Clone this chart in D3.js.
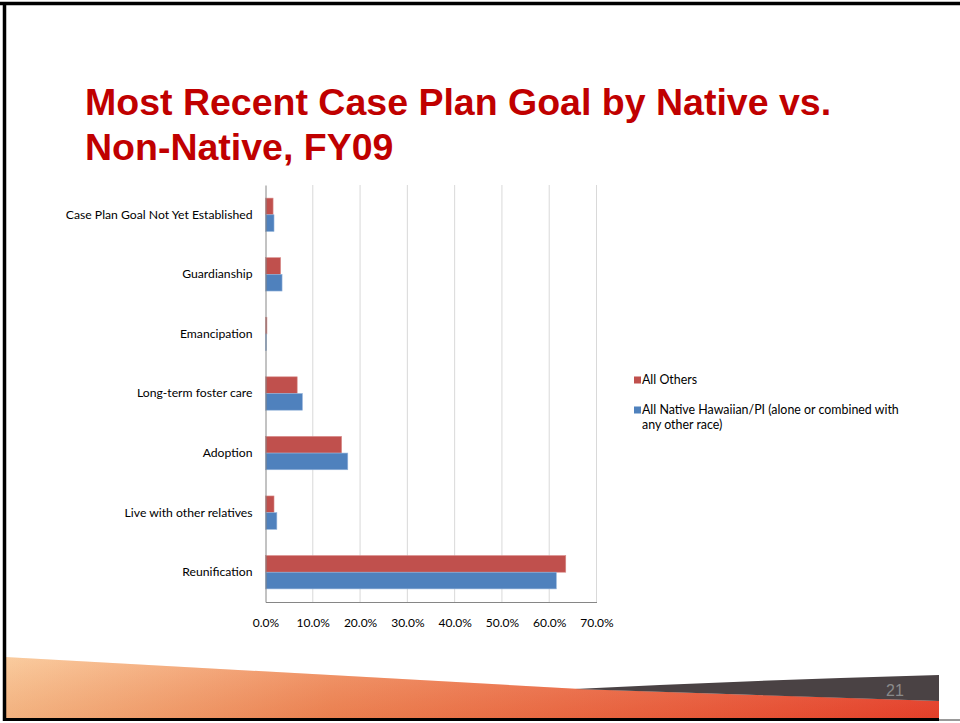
<!DOCTYPE html>
<html>
<head>
<meta charset="utf-8">
<script src="https://cdn.jsdelivr.net/npm/d3@7"></script>
<style>
  html, body { margin: 0; padding: 0; background: #fff; }
  svg { display: block; }
</style>
</head>
<body>
<div id="chart"></div>
<script>
// DATA
const categories = [
  "Case Plan Goal Not Yet Established",
  "Guardianship",
  "Emancipation",
  "Long-term foster care",
  "Adoption",
  "Live with other relatives",
  "Reunification"
];
const seriesNames = ["All Others", "All Native Hawaiian/PI (alone or combined with any other race)"];
const allOthers = [0.016, 0.032, 0.003, 0.067, 0.161, 0.018, 0.635];
const nativeHawaiian = [0.018, 0.035, 0.002, 0.078, 0.174, 0.024, 0.615];
const xTicks = [0, 0.1, 0.2, 0.3, 0.4, 0.5, 0.6, 0.7];
const colors = ["#C0504D", "#4F81BD"];

const W = 960, H = 723;
const svg = d3.select("#chart").append("svg").attr("width", W).attr("height", H);

// SLIDE DECORATION
const defs = svg.append("defs");
const grad = defs.append("linearGradient").attr("id", "orange").attr("x1", "0").attr("x2", "1").attr("y1", "0").attr("y2", "0");
grad.append("stop").attr("offset", "0").attr("stop-color", "#F9C38E");
grad.append("stop").attr("offset", "0.35").attr("stop-color", "#F08A58");
grad.append("stop").attr("offset", "1").attr("stop-color", "#E8412C");
const shade = defs.append("linearGradient").attr("id", "shade").attr("x1", "0").attr("x2", "0").attr("y1", "0").attr("y2", "1");
shade.append("stop").attr("offset", "0").attr("stop-color", "#fff").attr("stop-opacity", 0.15);
shade.append("stop").attr("offset", "1").attr("stop-color", "#c03010").attr("stop-opacity", 0.12);

svg.append("path")
  .attr("d", "M5,657 L580,689 L939,701 L939,719 L5,719 Z")
  .attr("fill", "url(#orange)");
svg.append("path")
  .attr("d", "M5,657 L580,689 L939,701 L939,719 L5,719 Z")
  .attr("fill", "url(#shade)");
svg.append("path")
  .attr("d", "M575,689 Q760,680 939,675 L939,701 Z")
  .attr("fill", "#4a4244");

svg.append("text")
  .attr("x", 895).attr("y", 696)
  .attr("text-anchor", "middle")
  .attr("font-family", "Liberation Sans, Arial, sans-serif")
  .attr("font-size", 16)
  .attr("fill", "#8a8a8a")
  .text("21");

// frame
svg.append("line").attr("x1", 0).attr("x2", W).attr("y1", 3.5).attr("y2", 3.5).attr("stroke", "#000").attr("stroke-width", 3.5);
svg.append("line").attr("x1", 4.5).attr("x2", 4.5).attr("y1", 2).attr("y2", 721).attr("stroke", "#000").attr("stroke-width", 3.5);
svg.append("line").attr("x1", 3).attr("x2", 939).attr("y1", 719.5).attr("y2", 719.5).attr("stroke", "#000").attr("stroke-width", 3);
svg.append("line").attr("x1", 939).attr("x2", W).attr("y1", 720).attr("y2", 720).attr("stroke", "#777").attr("stroke-width", 1.5);

// TITLE
const title = svg.append("text")
  .attr("font-family", "Liberation Sans, Arial, sans-serif")
  .attr("font-weight", "bold")
  .attr("font-size", 37.5)
  .attr("fill", "#C00000");
title.append("tspan").attr("x", 85).attr("y", 115).text("Most Recent Case Plan Goal by Native vs.");
title.append("tspan").attr("x", 85).attr("y", 160).text("Non-Native, FY09");

// CHART
const plot = { left: 265.5, right: 596.5, top: 185, bottom: 602 };
const x = d3.scaleLinear().domain([0, 0.7]).range([plot.left, plot.right]);
const y = d3.scaleBand().domain(categories).range([plot.top, plot.bottom]).paddingInner(0.44).paddingOuter(0.22);
const ySub = d3.scaleBand().domain([0, 1]).range([0, y.bandwidth()]);

const font = "Lato, 'Open Sans', sans-serif";

// gridlines
svg.append("g")
  .selectAll("line")
  .data(xTicks.slice(1))
  .join("line")
  .attr("x1", d => x(d)).attr("x2", d => x(d))
  .attr("y1", plot.top).attr("y2", plot.bottom)
  .attr("stroke", "#d9d9d9").attr("stroke-width", 1);

// bars
const series = [allOthers, nativeHawaiian];
const groups = svg.append("g")
  .selectAll("g")
  .data(categories)
  .join("g")
  .attr("transform", d => `translate(0,${y(d)})`);

groups.selectAll("rect")
  .data((d, i) => series.map((s, j) => ({ s: j, v: s[i] })))
  .join("rect")
  .attr("x", x(0))
  .attr("y", d => ySub(d.s))
  .attr("width", d => x(d.v) - x(0))
  .attr("height", ySub.bandwidth())
  .attr("fill", d => colors[d.s])
  .attr("stroke", d => d.s === 0 ? "#d98d8b" : "#94b3da")
  .attr("stroke-width", 0.6);

// x axis
const xAxis = svg.append("g")
  .attr("transform", `translate(0,${plot.bottom})`)
  .call(d3.axisBottom(x).tickValues(xTicks).tickFormat(d3.format(".1%")).tickSize(0).tickPadding(16));
xAxis.select(".domain").attr("stroke", "#868686");
xAxis.selectAll("text").attr("font-family", font).attr("font-size", 12).attr("fill", "#000");

// y axis
const yAxis = svg.append("g")
  .attr("transform", `translate(${plot.left},0)`)
  .call(d3.axisLeft(y).tickSize(0).tickPadding(13));
yAxis.select(".domain").attr("stroke", "#868686");
yAxis.selectAll("text").attr("font-family", font).attr("font-size", 12.2).attr("fill", "#000");

// LEGEND
const legend = svg.append("g").attr("font-family", font).attr("font-size", 12.4).attr("fill", "#000");
const legendRows = [
  { lines: ["All Others"], y: 380 },
  { lines: ["All Native Hawaiian/PI (alone or combined with", "any other race)"], y: 410 }
];
legendRows.forEach((row, i) => {
  legend.append("rect").attr("x", 634).attr("y", row.y - 3.5).attr("width", 7).attr("height", 7).attr("fill", colors[i]);
  const t = legend.append("text").attr("y", row.y + 4);
  row.lines.forEach((l, k) => t.append("tspan").attr("x", 642).attr("dy", k === 0 ? 0 : 15).text(l));
});
</script>
</body>
</html>
